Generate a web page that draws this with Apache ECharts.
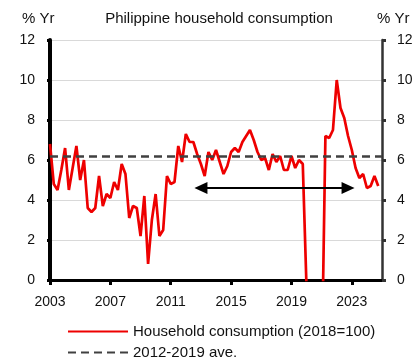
<!DOCTYPE html>
<html>
<head>
<meta charset="utf-8">
<script src="https://cdn.jsdelivr.net/npm/echarts@6/dist/echarts.min.js"></script>
<style>
html,body{margin:0;padding:0;background:#fff;}
#chart{width:419px;height:364px;}
</style>
</head>
<body>
<div id="chart"></div>
<script>
// ---- DATA ----
const startYear = 2003;
const endYear = 2025;
const quarters = [];
for (let y = startYear; y <= endYear; y++) {
  for (let q = 1; q <= 4; q++) {
    if (y === endYear && q > 1) break;
    quarters.push(y + 'Q' + q);
  }
}
// Household consumption, % y/y (quarterly, 2003Q1 - 2024Q4); values below 0 are off-scale in the original
const householdConsumption = [
  6.8, 4.8, 4.5, 5.5, 6.6, 4.5, 5.6, 6.7,   // 2003-2004
  5.0, 6.0, 3.6, 3.4, 3.6, 5.2, 3.7, 4.3,   // 2005-2006
  4.1, 4.9, 4.5, 5.8, 5.3, 3.1, 3.7, 3.6,   // 2007-2008
  2.2, 4.2, 0.8, 3.0, 4.3, 2.2, 2.5, 5.2,   // 2009-2010
  4.8, 4.9, 6.7, 5.9, 7.3, 6.9, 6.9, 6.3,   // 2011-2012
  5.8, 5.2, 6.4, 6.0, 6.5, 5.9, 5.3, 5.7,   // 2013-2014
  6.4, 6.6, 6.4, 6.9, 7.2, 7.5, 7.0, 6.4,   // 2015-2016
  6.0, 6.1, 5.5, 6.3, 5.9, 6.2, 5.5, 5.5,   // 2017-2018
  6.2, 5.6, 6.0, 5.8, -0.4, -15.5, -9.3, -7.4, // 2019-2020
  -4.8, 7.2, 7.1, 7.5, 10.0, 8.6, 8.1, 7.2, // 2021-2022
  6.5, 5.6, 5.1, 5.3, 4.6, 4.7, 5.2, 4.7    // 2023-2024
];
const average2012to2019 = 6.2;
const arrowPeriod = ['2013Q1', '2022Q4'];
const arrowLevel = 4.6;
const yTicks = [0, 2, 4, 6, 8, 10, 12];
const seriesNames = ['Household consumption (2018=100)', '2012-2019 ave.'];
const titleText = 'Philippine household consumption';
const unitText = '% Yr';

// ---- CHART ----
const chart = echarts.init(document.getElementById('chart'), null, {renderer: 'canvas'});
const FONT = 'Liberation Sans, Arial, sans-serif';
const yMin = yTicks[0], yMax = yTicks[yTicks.length - 1], yStep = yTicks[1] - yTicks[0];

const option = {
  animation: false,
  backgroundColor: '#fff',
  textStyle: {fontFamily: FONT},
  title: [
    {text: titleText, left: 219, top: 11, textAlign: 'center', padding: 0,
     textStyle: {fontFamily: FONT, fontSize: 15, fontWeight: 'normal', color: '#111'}},
    {text: unitText, left: 22, top: 11, padding: 0,
     textStyle: {fontFamily: FONT, fontSize: 15, fontWeight: 'normal', color: '#111'}},
    {text: unitText, left: 377, top: 11, padding: 0,
     textStyle: {fontFamily: FONT, fontSize: 15, fontWeight: 'normal', color: '#111'}}
  ],
  grid: {left: 50, right: 37, top: 40, bottom: 84, containLabel: false},
  legend: {
    data: seriesNames,
    orient: 'vertical',
    left: 67, top: 324,
    padding: 0,
    itemWidth: 60, itemHeight: 14, itemGap: 6,
    itemStyle: {opacity: 0},
    textStyle: {fontFamily: FONT, fontSize: 15, color: '#111'}
  },
  xAxis: {
    type: 'category',
    data: quarters,
    boundaryGap: false,
    axisLine: {lineStyle: {color: '#000', width: 3}},
    axisTick: {show: true, length: 5, inside: false, interval: (i) => i % 16 === 0,
               lineStyle: {color: '#000', width: 3}},
    axisLabel: {interval: (i) => i % 16 === 0, formatter: (v) => v.slice(0, 4),
                margin: 15, fontFamily: FONT, fontSize: 14, color: '#111'},
    splitLine: {show: false}
  },
  yAxis: [
    {type: 'value', min: yMin, max: yMax, interval: yStep, position: 'left',
     axisLine: {show: true, lineStyle: {color: '#000', width: 4}},
     axisTick: {show: true, length: 3, lineStyle: {color: '#000', width: 3}},
     axisLabel: {margin: 15, fontFamily: FONT, fontSize: 14, color: '#111'},
     splitLine: {show: true, lineStyle: {color: '#d9d9d9', width: 1}}},
    {type: 'value', min: yMin, max: yMax, interval: yStep, position: 'right',
     axisLine: {show: true, lineStyle: {color: '#333', width: 2.5}},
     axisTick: {show: true, length: 4, lineStyle: {color: '#333', width: 3}},
     axisLabel: {margin: 15, fontFamily: FONT, fontSize: 14, color: '#111'},
     splitLine: {show: false}}
  ],
  series: [
    {
      name: seriesNames[1],
      type: 'line',
      data: [],
      symbol: 'none',
      z: 2,
      lineStyle: {color: '#404040', width: 2.5, type: [8, 5]},
      itemStyle: {color: '#404040'},
      markLine: {
        silent: true, symbol: ['none', 'none'],
        label: {show: false},
        lineStyle: {color: '#404040', width: 2.5, type: [8, 5]},
        data: [{yAxis: average2012to2019}]
      }
    },
    {
      name: 'arrow',
      type: 'line',
      data: [],
      symbol: 'none',
      z: 3,
      markLine: {
        silent: true,
        symbol: ['triangle', 'triangle'],
        symbolSize: [12, 13],
        label: {show: false},
        lineStyle: {color: '#000', width: 2, type: 'solid'},
        itemStyle: {color: '#000'},
        data: [[{coord: [arrowPeriod[0], arrowLevel]}, {coord: [arrowPeriod[1], arrowLevel]}]]
      }
    },
    {
      name: seriesNames[0],
      type: 'line',
      data: householdConsumption,
      symbol: 'none',
      clip: true,
      z: 4,
      lineStyle: {color: '#ee0000', width: 2.7},
      itemStyle: {color: '#ee0000'}
    }
  ]
};
chart.setOption(option);
</script>
</body>
</html>
